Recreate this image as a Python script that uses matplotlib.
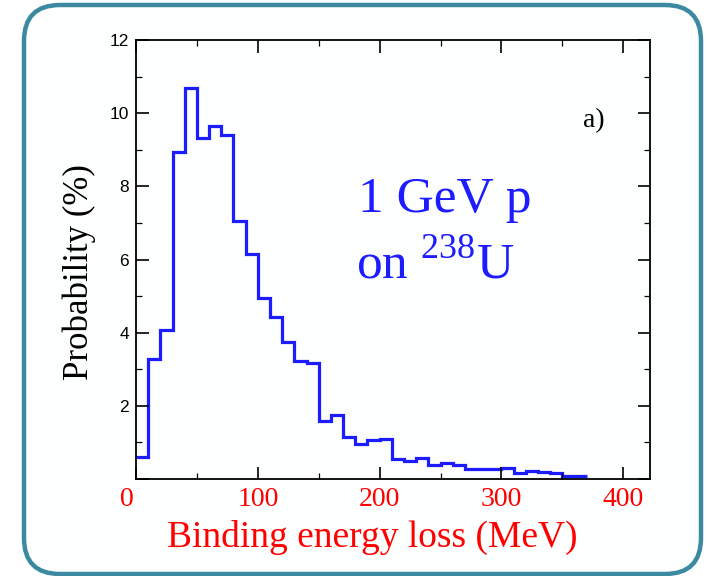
import numpy as np
import matplotlib
matplotlib.use("Agg")
import matplotlib.pyplot as plt
from matplotlib.patches import FancyBboxPatch
from matplotlib.transforms import ScaledTranslation
from matplotlib.ticker import MultipleLocator, FixedLocator, FixedFormatter

# ---- data ----
bin_edges = list(range(0, 380, 10))  # 0..370 MeV
probability = [0.60, 3.27, 4.06, 8.95, 10.68, 9.32, 9.65, 9.41, 7.06, 6.14,
               4.94, 4.44, 3.74, 3.23, 3.18, 1.59, 1.75, 1.16, 0.95, 1.06,
               1.09, 0.56, 0.50, 0.58, 0.38, 0.43, 0.38, 0.27, 0.27, 0.27,
               0.29, 0.16, 0.23, 0.20, 0.16, 0.09, 0.09]
x_ticks = [0, 100, 200, 300, 400]
x_ticklabels = ["0", "100", "200", "300", "400"]
y_ticks = [0, 2, 4, 6, 8, 10, 12]
y_ticklabels = ["", "2", "4", "6", "8", "10", "12"]

serif = ["Liberation Serif", "DejaVu Serif"]
sans = ["Liberation Sans", "DejaVu Sans"]
plt.rcParams["mathtext.fontset"] = "custom"
plt.rcParams["mathtext.rm"] = "Liberation Serif"

W, H = 707, 576
fig = plt.figure(figsize=(W / 100, H / 100), dpi=100)
fig.patch.set_facecolor("white")

# rounded frame
box = FancyBboxPatch((24 / 100, (H - 574) / 100), (701 - 24) / 100, (574 - 5) / 100,
                     boxstyle="round,pad=0,rounding_size=0.36",
                     transform=fig.dpi_scale_trans, facecolor="#fdfefe",
                     edgecolor="#3b8aa1", linewidth=3.2, zorder=-10)
fig.patches.append(box)

left, right, top, bottom = 136, 650, 40, 479
ax = fig.add_axes([left / W, 1 - bottom / H, (right - left) / W, (bottom - top) / H])
ax.set_facecolor("none")
ax.set_zorder(5)

ax.stairs(probability, bin_edges, color="#1c1cff", linewidth=2.3, baseline=None)

ax.set_xlim(0, 422)
ax.set_ylim(0, 12)

for s in ax.spines.values():
    s.set_linewidth(1.3)
    s.set_color("black")

ax.xaxis.set_major_locator(FixedLocator(x_ticks))
ax.xaxis.set_major_formatter(FixedFormatter(x_ticklabels))
ax.xaxis.set_minor_locator(MultipleLocator(50))
ax.yaxis.set_major_locator(FixedLocator(y_ticks))
ax.yaxis.set_major_formatter(FixedFormatter(y_ticklabels))
ax.yaxis.set_minor_locator(MultipleLocator(1))

ax.tick_params(which="both", direction="in", top=True, right=True, color="black")
ax.tick_params(which="major", length=9, width=1.2)
ax.tick_params(which="minor", length=4.5, width=0.9)
ax.tick_params(axis="x", which="major", pad=6, labelsize=20, labelcolor="red")
ax.tick_params(axis="y", which="major", pad=5, labelsize=12.5, labelcolor="black")

for lab in ax.get_xticklabels():
    lab.set_family(serif)
for lab in ax.get_yticklabels():
    lab.set_family(sans)

lab0 = ax.get_xticklabels()[0]
lab0.set_transform(lab0.get_transform() + ScaledTranslation(-9 / 100, 0, fig.dpi_scale_trans))

fig.text(372 / W, 1 - 537 / H, "Binding energy loss (MeV)", color="red",
         family=serif, fontsize=27, ha="center", va="center")
fig.text(79 / W, 1 - 272 / H, "Probability (%)", color="black", rotation=90,
         family=serif, fontsize=25, ha="center", va="center")

ax.text(594 / W, 1 - 121 / H, "a)", transform=fig.transFigure, family=serif,
        fontsize=20, ha="center", va="center", color="black")
ax.text(358 / W, 1 - 200 / H, "1 GeV p", transform=fig.transFigure, family=serif,
        fontsize=37, ha="left", va="center", color="#1c1cff")
ax.text(356 / W, 1 - 265 / H, r"on $^{238}$U", transform=fig.transFigure, family=serif,
        fontsize=37, ha="left", va="center", color="#1c1cff")

fig.savefig("out.png", dpi=100)
